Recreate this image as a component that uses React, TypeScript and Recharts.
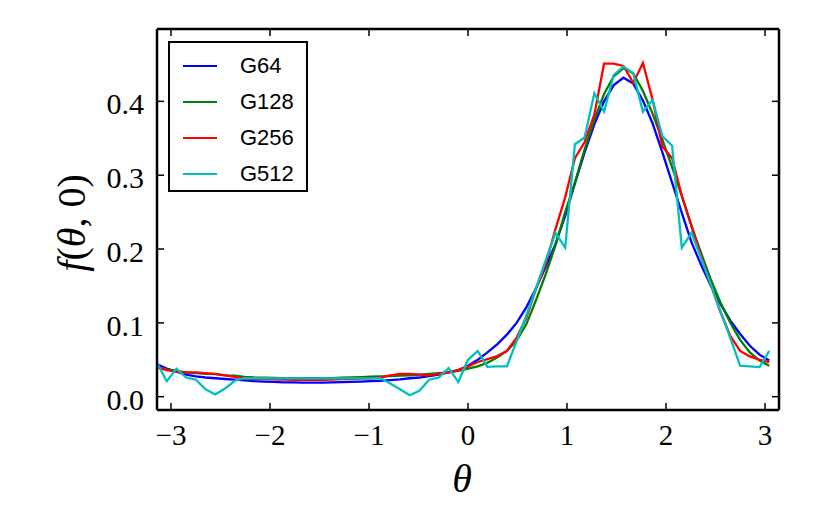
import { Line, LineChart, XAxis, YAxis } from "recharts";

const THETA = [
  -3.1416, -3.0434, -2.9452, -2.8471, -2.7489, -2.6507, -2.5525, -2.4544, -2.3562, -2.258,
  -2.1598, -2.0617, -1.9635, -1.8653, -1.7671, -1.669, -1.5708, -1.4726, -1.3744, -1.2763,
  -1.1781, -1.0799, -0.9817, -0.8836, -0.7854, -0.6872, -0.589, -0.4909, -0.3927, -0.2945,
  -0.1963, -0.0982, 0, 0.0982, 0.1963, 0.2945, 0.3927, 0.4909, 0.589, 0.6872,
  0.7854, 0.8836, 0.9817, 1.0799, 1.1781, 1.2763, 1.3744, 1.4726, 1.5708, 1.669,
  1.7671, 1.8653, 1.9635, 2.0617, 2.1598, 2.258, 2.3562, 2.4544, 2.5525, 2.6507,
  2.7489, 2.8471, 2.9452, 3.0434,
];

const G64 = [
  0.044, 0.038, 0.034, 0.03, 0.0275, 0.026, 0.025, 0.024, 0.023, 0.0222,
  0.021, 0.0205, 0.02, 0.0195, 0.0193, 0.019, 0.019, 0.019, 0.0193, 0.0197,
  0.02, 0.0205, 0.021, 0.0216, 0.0225, 0.0235, 0.025, 0.026, 0.028, 0.03,
  0.033, 0.036, 0.042, 0.05, 0.06, 0.071, 0.084, 0.1, 0.121, 0.147,
  0.176, 0.207, 0.245, 0.289, 0.331, 0.369, 0.4, 0.422, 0.432, 0.424,
  0.401, 0.37, 0.331, 0.29, 0.249, 0.209, 0.178, 0.15, 0.125, 0.103,
  0.085, 0.069, 0.057, 0.049,
];

const G128 = [
  0.04, 0.037, 0.035, 0.033, 0.032, 0.031, 0.0305, 0.029, 0.0284, 0.027,
  0.026, 0.0258, 0.0255, 0.025, 0.025, 0.025, 0.025, 0.025, 0.0253, 0.0257,
  0.026, 0.0265, 0.027, 0.0275, 0.028, 0.0285, 0.029, 0.03, 0.031, 0.032,
  0.033, 0.035, 0.038, 0.041, 0.046, 0.053, 0.062, 0.076, 0.098, 0.131,
  0.166, 0.205, 0.25, 0.29, 0.335, 0.375, 0.41, 0.434, 0.445, 0.438,
  0.414, 0.383, 0.348, 0.311, 0.272, 0.231, 0.194, 0.158, 0.127, 0.1,
  0.077, 0.06, 0.049, 0.042,
];

const G256 = [
  0.04, 0.036, 0.034, 0.033, 0.033, 0.032, 0.031, 0.029, 0.027, 0.025,
  0.024, 0.0237, 0.0235, 0.0233, 0.023, 0.023, 0.023, 0.023, 0.0233, 0.0237,
  0.024, 0.0245, 0.025, 0.026, 0.029, 0.031, 0.031, 0.03, 0.029, 0.031,
  0.033, 0.036, 0.041, 0.047, 0.051, 0.055, 0.062, 0.08, 0.107, 0.146,
  0.18, 0.227, 0.27, 0.323, 0.345, 0.382, 0.451, 0.451, 0.448, 0.425,
  0.452, 0.402, 0.339, 0.323, 0.272, 0.231, 0.19, 0.151, 0.114, 0.082,
  0.062, 0.0546, 0.05, 0.047,
];

const G512 = [
  0.046, 0.021, 0.038, 0.026, 0.023, 0.01, 0.003, 0.011, 0.0216, 0.025,
  0.025, 0.025, 0.0248, 0.0248, 0.0248, 0.0248, 0.0248, 0.0248, 0.0248, 0.0248,
  0.0248, 0.0248, 0.0248, 0.025, 0.018, 0.01, 0.002, 0.008, 0.023, 0.026,
  0.039, 0.02, 0.05, 0.062, 0.0405, 0.041, 0.041, 0.075, 0.11, 0.147,
  0.185, 0.222, 0.202, 0.342, 0.351, 0.411, 0.386, 0.436, 0.447, 0.438,
  0.386, 0.402, 0.353, 0.34, 0.202, 0.222, 0.187, 0.151, 0.115, 0.079,
  0.042, 0.041, 0.04, 0.062,
];

const X_TICKS = [-3, -2, -1, 0, 1, 2, 3];
const Y_TICKS = [0, 0.1, 0.2, 0.3, 0.4];

const SERIES = [
  { key: "G64", color: "#0000ff" },
  { key: "G128", color: "#008000" },
  { key: "G256", color: "#ff0000" },
  { key: "G512", color: "#00bfbf" },
];

const data = THETA.map((t, i) => ({
  theta: t,
  G64: G64[i],
  G128: G128[i],
  G256: G256[i],
  G512: G512[i],
}));

const SERIF = "'Liberation Serif', 'DejaVu Serif', serif";
const TICK_LEN = 7;
const X_DOMAIN = [-Math.PI, Math.PI];
const Y_DOMAIN = [-0.018, 0.498];
const SPINE = { stroke: "#000", strokeWidth: 2.5 };

const fmtX = (v: number) => (v < 0 ? `\u2212${Math.abs(v)}` : `${v}`);

function BottomTick({ x, y, payload }: any) {
  return (
    <g>
      <line x1={x} x2={x} y1={y} y2={y - TICK_LEN} stroke="#000" strokeWidth={1.5} />
      <text x={x} y={y + 35} textAnchor="middle" fontFamily={SERIF} fontSize={29} fill="#000">
        {fmtX(payload.value)}
      </text>
    </g>
  );
}

function TopTick({ x, y }: any) {
  return <line x1={x} x2={x} y1={y} y2={y + TICK_LEN} stroke="#000" strokeWidth={1.5} />;
}

function LeftTick({ x, y, payload }: any) {
  return (
    <g>
      <line x1={x} x2={x + TICK_LEN} y1={y} y2={y} stroke="#000" strokeWidth={1.5} />
      <text x={x - 13} y={y + 13} textAnchor="end" fontFamily={SERIF} fontSize={30} fill="#000">
        {Number(payload.value).toFixed(1)}
      </text>
    </g>
  );
}

function RightTick({ x, y }: any) {
  return <line x1={x} x2={x - TICK_LEN} y1={y} y2={y} stroke="#000" strokeWidth={1.5} />;
}

function LegendBox() {
  return (
    <div
      style={{
        position: "absolute",
        left: 168,
        top: 41,
        width: 140,
        height: 151,
        boxSizing: "border-box",
        border: "2px solid #000",
        background: "#fff",
        paddingTop: 5,
      }}
    >
      {SERIES.map((s) => (
        <div key={s.key} style={{ height: 36, display: "flex", alignItems: "center" }}>
          <div style={{ marginLeft: 13, width: 34, height: 2.5, background: s.color }} />
          <span
            style={{
              marginLeft: 23,
              fontFamily: "'Liberation Sans', Arial, sans-serif",
              fontSize: 22,
              color: "#000",
            }}
          >
            {s.key}
          </span>
        </div>
      ))}
    </div>
  );
}

export default function App() {
  return (
    <div style={{ position: "absolute", left: 0, top: 0, width: 830, height: 523, background: "#fff" }}>
      <LineChart width={830} height={523} data={data} margin={{ top: 28, right: 50, bottom: 0, left: 0 }}>
        <XAxis
          dataKey="theta"
          type="number"
          domain={X_DOMAIN}
          allowDataOverflow
          ticks={X_TICKS}
          height={113}
          tickSize={0}
          tickMargin={0}
          tickLine={false}
          axisLine={SPINE}
          tick={<BottomTick />}
          label={{
            content: () => (
              <text x={462} y={492} textAnchor="middle" fontFamily={SERIF} fontStyle="italic" fontSize={40} fill="#000">
                θ
              </text>
            ),
          }}
        />
        <XAxis
          xAxisId="top"
          dataKey="theta"
          orientation="top"
          type="number"
          domain={X_DOMAIN}
          allowDataOverflow
          ticks={X_TICKS}
          height={1}
          tickSize={0}
          tickMargin={0}
          tickLine={false}
          axisLine={SPINE}
          tick={<TopTick />}
        />
        <YAxis
          type="number"
          domain={Y_DOMAIN}
          allowDataOverflow
          ticks={Y_TICKS}
          width={157}
          tickSize={0}
          tickMargin={0}
          tickLine={false}
          axisLine={SPINE}
          tick={<LeftTick />}
          label={{
            content: () => (
              <text
                transform="translate(85,223) rotate(-90)"
                textAnchor="middle"
                fontFamily={SERIF}
                fontSize={40}
                fill="#000"
              >
                <tspan fontStyle="italic">f</tspan>(<tspan fontStyle="italic">θ</tspan>, 0)
              </text>
            ),
          }}
        />
        <YAxis
          yAxisId="right"
          orientation="right"
          type="number"
          domain={Y_DOMAIN}
          allowDataOverflow
          ticks={Y_TICKS}
          width={1}
          tickSize={0}
          tickMargin={0}
          tickLine={false}
          axisLine={SPINE}
          tick={<RightTick />}
        />
        {/* invisible series so the top and right frame axes get drawn */}
        <Line
          xAxisId="top"
          yAxisId="right"
          dataKey="G64"
          stroke="none"
          dot={false}
          activeDot={false}
          legendType="none"
          isAnimationActive={false}
        />
        {SERIES.map((s) => (
          <Line
            key={s.key}
            dataKey={s.key}
            name={s.key}
            type="linear"
            stroke={s.color}
            strokeWidth={2.3}
            dot={false}
            isAnimationActive={false}
          />
        ))}
      </LineChart>
      <LegendBox />
    </div>
  );
}
